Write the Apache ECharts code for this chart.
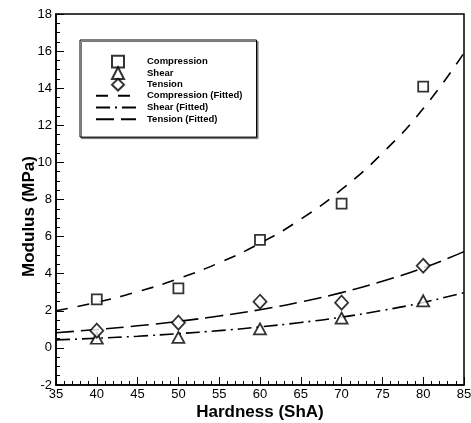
<!DOCTYPE html>
<html>
<head>
<meta charset="utf-8">
<script src="https://cdn.jsdelivr.net/npm/echarts@6/dist/echarts.min.js"></script>
<style>
  html, body { margin: 0; padding: 0; background: #fff; }
  #chart { width: 471px; height: 423px; }
</style>
</head>
<body>
<div id="chart"></div>
<script>
// measured points
const hardness = [40, 50, 60, 70, 80]
const compression = [2.62, 3.21, 5.82, 7.78, 14.08]
const shear = [0.52, 0.57, 1.02, 1.6, 2.54]
const tension = [0.93, 1.36, 2.49, 2.44, 4.43]

// fitted curves
const fitHardness = [35, 40, 45, 50, 55, 60, 65, 70, 75, 80, 85]
const compressionFit = [2.0, 2.46, 3.03, 3.73, 4.59, 5.64, 6.94, 8.54, 10.5, 12.9, 15.9]
const shearFit = [0.43, 0.52, 0.63, 0.77, 0.93, 1.13, 1.37, 1.66, 2.02, 2.45, 2.98]
const tensionFit = [0.82, 0.99, 1.19, 1.43, 1.72, 2.06, 2.48, 2.98, 3.59, 4.31, 5.19]

const pointNames = ['Compression', 'Shear', 'Tension']
const fitNames = ['Compression (Fitted)', 'Shear (Fitted)', 'Tension (Fitted)']

const font = 'Liberation Sans, Arial, sans-serif'

const pairs = (xs, ys) => xs.map((x, i) => [x, ys[i]])

const markerStyle = {
  color: '#fff',
  borderColor: '#000',
  borderWidth: 1.8
}

const fitLine = (name, data, dash) => ({
  name,
  type: 'line',
  data,
  symbol: 'none',
  smooth: true,
  z: 1,
  itemStyle: { opacity: 0 },
  lineStyle: { color: '#000', width: 1.6, type: dash }
})

const legendText = (padLeft) => ({
  fontFamily: font,
  fontSize: 9.5,
  lineHeight: 11.7,
  fontWeight: 'bold',
  color: '#000',
  padding: [0, 0, 0, padLeft]
})

const chart = echarts.init(document.getElementById('chart'))

const option = {
  animation: false,
  backgroundColor: '#fff',
  grid: {
    left: 56,
    right: 7,
    top: 14,
    bottom: 38,
    show: true,
    borderColor: '#000',
    borderWidth: 1.5,
    outerBoundsMode: 'none'
  },
  legend: [
    // box + fitted lines
    {
      orient: 'vertical',
      left: 80,
      top: 40,
      padding: [50, 14, 12, 15],
      itemWidth: 40,
      itemHeight: 11.7,
      itemGap: 0,
      backgroundColor: '#fff',
      borderColor: '#000',
      borderWidth: 1,
      shadowColor: '#777',
      shadowOffsetX: 1.5,
      shadowOffsetY: 1.5,
      shadowBlur: 0,
      textStyle: legendText(6),
      data: fitNames
    },
    // markers
    {
      orient: 'vertical',
      left: 111,
      top: 54.8,
      padding: 0,
      z: 5,
      itemWidth: 12,
      itemHeight: 11.7,
      itemGap: -2.2,
      symbolKeepAspect: true,
      textStyle: legendText(18),
      data: pointNames
    }
  ],
  xAxis: {
    type: 'value',
    min: 35,
    max: 85,
    interval: 5,
    name: 'Hardness (ShA)',
    nameLocation: 'middle',
    nameGap: 19,
    nameMoveOverlap: false,
    nameTextStyle: { fontFamily: font, fontSize: 17, fontWeight: 'bold', color: '#000' },
    axisLine: { onZero: false, lineStyle: { color: '#000', width: 1.5 } },
    axisTick: { inside: true, length: 8, lineStyle: { color: '#000', width: 1 } },
    minorTick: { show: true, splitNumber: 5, length: 4, lineStyle: { color: '#000', width: 1 } },
    splitLine: { show: false },
    axisLabel: { fontFamily: font, fontSize: 13, color: '#000', margin: 3, showMinLabel: true, showMaxLabel: true }
  },
  yAxis: {
    type: 'value',
    min: -2,
    max: 18,
    interval: 2,
    name: 'Modulus (MPa)',
    nameLocation: 'middle',
    nameGap: 18,
    nameMoveOverlap: false,
    nameTextStyle: { fontFamily: font, fontSize: 17, fontWeight: 'bold', color: '#000', padding: [0, 34, 0, 0] },
    axisLine: { onZero: false, lineStyle: { color: '#000', width: 1.5 } },
    axisTick: { inside: true, length: 8, lineStyle: { color: '#000', width: 1 } },
    minorTick: { show: true, splitNumber: 4, length: 4, lineStyle: { color: '#000', width: 1 } },
    splitLine: { show: false },
    axisLabel: { fontFamily: font, fontSize: 13, color: '#000', margin: 4, showMinLabel: true, showMaxLabel: true }
  },
  series: [
    {
      name: pointNames[0],
      type: 'scatter',
      data: pairs(hardness, compression),
      symbol: 'rect',
      symbolSize: 10,
      z: 3,
      itemStyle: markerStyle
    },
    {
      name: pointNames[1],
      type: 'scatter',
      data: pairs(hardness, shear),
      symbol: 'triangle',
      symbolSize: [12, 11],
      z: 3,
      itemStyle: markerStyle
    },
    {
      name: pointNames[2],
      type: 'scatter',
      data: pairs(hardness, tension),
      symbol: 'diamond',
      symbolSize: [13, 14],
      z: 3,
      itemStyle: markerStyle
    },
    fitLine(fitNames[0], pairs(fitHardness, compressionFit), [12, 10]),
    fitLine(fitNames[1], pairs(fitHardness, shearFit), [14, 5, 2, 5]),
    fitLine(fitNames[2], pairs(fitHardness, tensionFit), [18, 7])
  ]
}

chart.setOption(option)
</script>
</body>
</html>
